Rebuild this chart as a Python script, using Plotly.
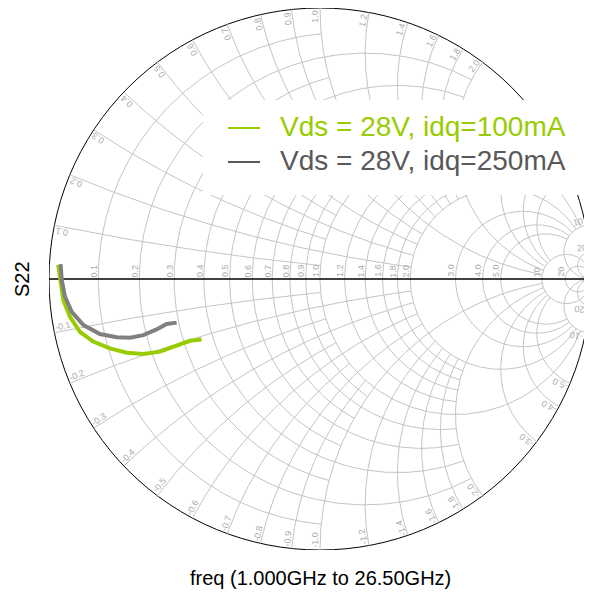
import numpy as np
import plotly.graph_objects as go

s22_100_re = [-0.966, -0.959, -0.947, -0.923, -0.886, -0.837, -0.775, -0.713, -0.652, -0.590, -0.529, -0.480, -0.437]
s22_100_im = [0.052, -0.004, -0.078, -0.139, -0.195, -0.231, -0.256, -0.272, -0.277, -0.268, -0.247, -0.228, -0.223]
s22_250_re = [-0.957, -0.953, -0.941, -0.916, -0.873, -0.812, -0.750, -0.701, -0.652, -0.603, -0.566, -0.529]
s22_250_im = [0.055, -0.004, -0.065, -0.121, -0.170, -0.203, -0.215, -0.217, -0.207, -0.186, -0.166, -0.161]

series_names = ["Vds = 28V, idq=100mA", "Vds = 28V, idq=250mA"]
series_colors = ["#99cc00", "#808080"]
legend_colors = ["#99cc00", "#595959"]

# grid values and the impedance limit each group is drawn up to
grid_groups = [
    ([0.1, 0.3, 0.5, 0.7, 0.9], 1.0),
    ([0.2, 0.4, 0.6, 0.8, 1.2, 1.4, 1.6, 1.8], 2.0),
    ([1.0, 2.0, 3.0, 4.0, 5.0], 10.0),
    ([10.0, 20.0], np.inf),
]
tick_values = [0.1, 0.2, 0.3, 0.4, 0.5, 0.6, 0.7, 0.8, 0.9, 1.0,
               1.2, 1.4, 1.6, 1.8, 2.0, 3.0, 4.0, 5.0, 10, 20]

# page body has an 8px margin, so the figure is drawn 8px smaller
OFF = 8
R_PX = 271.0  # chart radius in pixels
CX, CY = 320.0, 279.0


def gamma(z):
    return (z - 1) / (z + 1)


def r_arc(r, xmax, n=240):
    c = r / (1 + r)
    rad = 1 / (1 + r)
    if np.isinf(xmax):
        phi = np.linspace(0, 2 * np.pi, n)
    else:
        p = np.angle(gamma(complex(r, xmax)) - c)
        phi = np.linspace(p, 2 * np.pi - p, n)
    return c + rad * np.exp(1j * phi)


def x_arc(x, rmax, n=200):
    cen = 1 + 1j / x
    rad = 1 / abs(x)
    a0 = np.angle(gamma(complex(0, x)) - cen)
    end = 1.0 if np.isinf(rmax) else gamma(complex(rmax, x))
    a1 = np.angle(end - cen)
    d = (a1 - a0 + np.pi) % (2 * np.pi) - np.pi
    return cen + rad * np.exp(1j * (a0 + d * np.linspace(0, 1, n)))


gx, gy = [], []
for vals, lim in grid_groups:
    for v in vals:
        for pts in [r_arc(v, lim), x_arc(v, lim), x_arc(-v, lim)]:
            gx += list(pts.real) + [None]
            gy += list(pts.imag) + [None]

fig = go.Figure()
fig.add_trace(go.Scatter(x=gx, y=gy, mode="lines", hoverinfo="skip",
                         line=dict(color="#c4c4c4", width=1), showlegend=False))
fig.add_trace(go.Scatter(x=[-1, 1], y=[0, 0], mode="lines", hoverinfo="skip",
                         line=dict(color="black", width=1.5), showlegend=False))

fig.add_trace(go.Scatter(x=s22_100_re, y=s22_100_im, mode="lines", name=series_names[0],
                         line=dict(color=series_colors[0], width=4), showlegend=False))
fig.add_trace(go.Scatter(x=s22_250_re, y=s22_250_im, mode="lines", name=series_names[1],
                         line=dict(color=series_colors[1], width=4), showlegend=False))

# legend box (white background hides the grid), page pixels
box = (203, 100, 592, 195)


def px2data(px, py):
    return (px - CX) / R_PX, (CY - py) / R_PX


def in_box(px, py):
    return box[0] - 4 < px < box[2] + 4 and box[1] - 4 < py < box[3] + 4


def fmt(v):
    return "%d" % v if v >= 10 else "%.1f" % v


def text_len(s, size=9):
    w = {".": 0.278, "-": 0.333}
    return sum(w.get(ch, 0.556) for ch in s) * size


annotations = []
lab_font = dict(family="Liberation Sans, Arial", size=9, color="#aaaaaa")

for v in tick_values:
    s = fmt(v)
    L = text_len(s)
    g = (v - 1) / (v + 1)
    annotations.append(dict(x=g - 4.5 / R_PX, y=(L / 2 + 2) / R_PX, text=s, textangle=-90,
                            showarrow=False, xanchor="center", yanchor="middle", font=lab_font))
    for sign in (1, -1):
        s = fmt(v) if sign > 0 else "-" + fmt(v)
        L = text_len(s)
        p = gamma(complex(0, sign * v))
        th = np.angle(p)
        a = th if sign > 0 else th + np.pi
        up = a + np.pi / 2
        cx = p.real - p.real * (L / 2 + 2) / R_PX + np.cos(up) * 4.5 / R_PX
        cy = p.imag - p.imag * (L / 2 + 2) / R_PX + np.sin(up) * 4.5 / R_PX
        if in_box(CX + cx * R_PX, CY - cy * R_PX):
            continue
        ang = -np.degrees(a)
        ang = (ang + 180) % 360 - 180
        annotations.append(dict(x=cx, y=cy, text=s, textangle=ang, showarrow=False,
                                xanchor="center", yanchor="middle", font=lab_font))

# legend entries
leg_rows = [128, 162]
shapes = [
    dict(type="circle", xref="x", yref="y", x0=-1, y0=-1, x1=1, y1=1,
         line=dict(color="black", width=1), layer="below"),
    dict(type="rect", xref="x", yref="y",
         x0=px2data(box[0], 0)[0], x1=px2data(box[2], 0)[0],
         y0=px2data(0, box[3])[1], y1=px2data(0, box[1])[1],
         fillcolor="white", line=dict(width=0), layer="above"),
]
for name, col, row in zip(series_names, legend_colors, leg_rows):
    x0, y0 = px2data(228, row)
    x1, _ = px2data(260, row)
    shapes.append(dict(type="line", xref="x", yref="y", x0=x0, x1=x1, y0=y0, y1=y0,
                       line=dict(color=col, width=2), layer="above"))
    tx, ty = px2data(278, row - 2)
    annotations.append(dict(x=tx, y=ty, text=name, showarrow=False, xanchor="left",
                            yanchor="middle",
                            font=dict(family="Liberation Sans, Arial", size=28, color=col)))

# axis titles
annotations.append(dict(xref="paper", yref="paper", x=(22 - 49) / 542, y=0.5, text="S22",
                        textangle=-90, showarrow=False, xanchor="center", yanchor="middle",
                        font=dict(family="Liberation Sans, Arial", size=20, color="black")))
annotations.append(dict(xref="paper", yref="paper", x=0.5, y=(550 - 578) / 542,
                        text="freq (1.000GHz to 26.50GHz)", showarrow=False,
                        xanchor="center", yanchor="middle",
                        font=dict(family="Liberation Sans, Arial", size=20, color="black")))

fig.update_layout(
    width=592 - OFF, height=594 - OFF,
    margin=dict(l=49 - OFF, r=1, t=8 - OFF, b=44),
    paper_bgcolor="white", plot_bgcolor="white",
    xaxis=dict(range=[-1, 1], visible=False, fixedrange=True),
    yaxis=dict(range=[-1, 1], visible=False, fixedrange=True),
    shapes=shapes, annotations=annotations, showlegend=False,
)
fig.write_html("out.html")
